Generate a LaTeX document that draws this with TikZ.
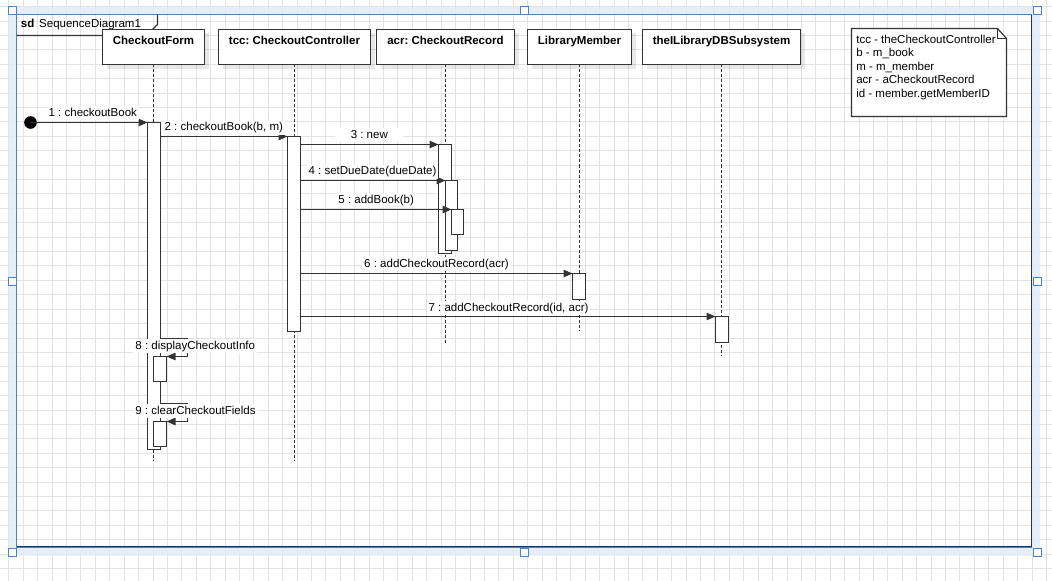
\documentclass[tikz,border=0pt]{standalone}
\usepackage{fontspec}
\setmainfont{Liberation Sans}
\usetikzlibrary{arrows.meta,fit}
\definecolor{gridc}{HTML}{E3E3E3}
\definecolor{selblue}{HTML}{3D85E0}
\definecolor{selband}{HTML}{E2ECFA}
\definecolor{ink}{HTML}{333333}
\frenchspacing

\begin{document}
\begin{tikzpicture}[x=0.75pt,y=-0.75pt,
  font=\fontsize{8.63}{10.1}\selectfont,
  every node/.style={inner sep=0pt, outer sep=0pt},
  gridline/.style={draw=gridc, line width=0.75pt},
  headshadow/.style={fill=black, fill opacity=0.09},
  head/.style={draw=ink, fill=white, line width=1pt},
  headtext/.style={font=\fontsize{8.63}{10.1}\selectfont\bfseries, anchor=base},
  lifeline/.style={draw=ink, line width=0.75pt, dash pattern=on 2.25pt off 1.5pt},
  actbar/.style={draw=ink, fill=white, line width=0.85pt},
  msg/.style={draw=ink, line width=0.85pt, -{Triangle[length=6.75pt, width=5.6pt]}},
  msglabel/.style={fill=white, inner xsep=1.5pt, inner ysep=1pt, text height=6.5pt, text depth=1.8pt},
  notetext/.style={anchor=base west},
  handle/.style={draw=selblue, fill=white, line width=0.8pt, minimum size=6pt},
]
% canvas and editor grid
\useasboundingbox (0,0) rectangle (1052,581);
\fill[white] (0,0) rectangle (1052,581);
\foreach \k in {0,...,72} \draw[gridline] ({int(8.9+\k*14.41)+0.5},0) -- ({int(8.9+\k*14.41)+0.5},581);
\foreach \k in {0,...,39} \draw[gridline] (0,{int(6.6+\k*14.41)+0.5}) -- (1052,{int(6.6+\k*14.41)+0.5});

% selection band around the frame
\fill[selband, opacity=0.85, even odd rule] (9,7) rectangle (1040,555.5) (16,14) rectangle (1032,548);

% sd frame
\draw[ink, line width=1.1pt] (16.5,14.5) rectangle (1031.5,546.5);
\draw[selblue, line width=0.9pt] (1032,547.5) -- (16.5,547.5) -- (16.5,14.5) -- (1032,14.5);
\draw[ink, line width=0.85pt] (16.5,35.5) -- (146.5,35.5) -- (157.5,24.5) -- (157.5,14.5);
\node[anchor=base west] (sdlabel) at (21,28) {\textbf{sd}\hspace{3.6pt}SequenceDiagram1};

% soft shadows under the lifeline heads
\foreach \xa/\xb in {102.5/204.5, 218.5/370.5, 376.5/514.5, 527.5/631.5, 642.5/800.5}
  \fill[headshadow] ({\xa+4},33.5) rectangle ({\xb+4.5},69);

% lifeline heads
\node[head, fit={(102.5,29.5) (204.5,64.5)}] (formbox) {};
\node[head, fit={(218.5,29.5) (370.5,64.5)}] (tccbox) {};
\node[head, fit={(376.5,29.5) (514.5,64.5)}] (acrbox) {};
\node[head, fit={(527.5,29.5) (631.5,64.5)}] (membox) {};
\node[head, fit={(642.5,29.5) (800.5,64.5)}] (dbbox) {};
\node[headtext] (formname) at (formbox.center |- 0,44.1) {CheckoutForm};
\node[headtext] (tccname) at (tccbox.center |- 0,44.1) {tcc: CheckoutController};
\node[headtext] (acrname) at (acrbox.center |- 0,44.1) {acr: CheckoutRecord};
\node[headtext] (memname) at (membox.center |- 0,44.1) {LibraryMember};
\node[headtext] (dbname) at (dbbox.center |- 0,44.1) {theILibraryDBSubsystem};

% lifelines
\coordinate (formend) at (formbox.south |- 0,461);
\coordinate (tccend) at (tccbox.south |- 0,460.5);
\coordinate (acrend) at (acrbox.south |- 0,343.3);
\coordinate (memend) at (membox.south |- 0,330.7);
\coordinate (dbend) at (dbbox.south |- 0,355);
\draw[lifeline] (formbox.south) -- (formend);
\draw[lifeline] (tccbox.south) -- (tccend);
\draw[lifeline] (acrbox.south) -- (acrend);
\draw[lifeline] (membox.south) -- (memend);
\draw[lifeline] (dbbox.south) -- (dbend);

% activation bars
\node[actbar, fit={(147.5,122.5) (160.5,449.5)}] (formact) {};
\node[actbar, fit={(287.5,136.5) (300.5,331.5)}] (tccact) {};
\node[actbar, fit={(438.5,144.5) (451.5,253.5)}] (acract1) {};
\node[actbar, fit={(445.5,180.5) (457.5,250.5)}] (acract2) {};
\node[actbar, fit={(451.5,209.5) (463.5,234.5)}] (acract3) {};
\node[actbar, fit={(572.5,273.5) (585.5,299.5)}] (memact) {};
\node[actbar, fit={(715.5,316.5) (728.5,342.5)}] (dbact) {};
\node[actbar, fit={(153.5,356.5) (166.5,381.5)}] (selfact8) {};
\node[actbar, fit={(153.5,421.5) (166.5,446.5)}] (selfact9) {};

% found message start
\node[circle, fill=black, minimum size=9.5pt] (start) at (30.5,122.5) {};

% messages
\draw[msg] (start.center) -- (formact.north west);
\draw[msg] (formact.east |- tccact.north) -- (tccact.north west);
\draw[msg] (tccact.east |- acract1.north) -- (acract1.north west);
\draw[msg] (tccact.east |- acract2.north) -- (acract2.north west);
\draw[msg] (tccact.east |- acract3.north) -- (acract3.north west);
\draw[msg] (tccact.east |- memact.north) -- (memact.north west);
\draw[msg] (tccact.east |- dbact.north) -- (dbact.north west);
\draw[msg] (formact.east |- 0,338.5) -- ++(27,0) |- (selfact8.north east);
\draw[msg] (formact.east |- 0,403.5) -- ++(27,0) |- (selfact9.north east);

% message labels
\node[msglabel] (l1) at (92.8,113.3) {1 : checkoutBook};
\node[msglabel] (l2) at (223.8,127.7) {2 : checkoutBook(b, m)};
\node[msglabel, minimum width=51pt] (l3) at (369.3,135) {3 : new};
\node[msglabel] (l4) at (372.5,171.7) {4 : setDueDate(dueDate)};
\node[msglabel] (l5) at (376.2,200) {5 : addBook(b)};
\node[msglabel] (l6) at (436.5,264) {6 : addCheckoutRecord(acr)};
\node[msglabel] (l7) at (508.5,308) {7 : addCheckoutRecord(id, acr)};
\node[msglabel] (l8) at (195.3,346) {8 : displayCheckoutInfo};
\node[msglabel] (l9) at (195.5,411) {9 : clearCheckoutFields};

% note with folded corner
\draw[ink, fill=white, line width=0.85pt] (851.5,28.5) -- (997.5,28.5) -- (1006.5,38.5) -- (1006.5,116.5) -- (851.5,116.5) -- cycle;
\draw[ink, line width=0.85pt] (997.5,28.5) -- (997.5,38.5) -- (1006.5,38.5);
\node[notetext] (n1) at (856.3,43.1) {tcc - theCheckoutController};
\node[notetext] (n2) at (856.3,56.6) {b - m\_book};
\node[notetext] (n3) at (856.3,70.1) {m - m\_member};
\node[notetext] (n4) at (856.3,83.6) {acr - aCheckoutRecord};
\node[notetext] (n5) at (856.3,97.1) {id - member.getMemberID};

% selection handles
\node[handle] (h1) at (12.5,10.5) {};
\node[handle] (h2) at (524.5,10.5) {};
\node[handle] (h3) at (1037.5,10.5) {};
\node[handle] (h4) at (12.5,281.5) {};
\node[handle] (h5) at (1037.5,281.5) {};
\node[handle] (h6) at (12.5,552.5) {};
\node[handle] (h7) at (524.5,552.5) {};
\node[handle] (h8) at (1037.5,552.5) {};
\end{tikzpicture}
\end{document}
